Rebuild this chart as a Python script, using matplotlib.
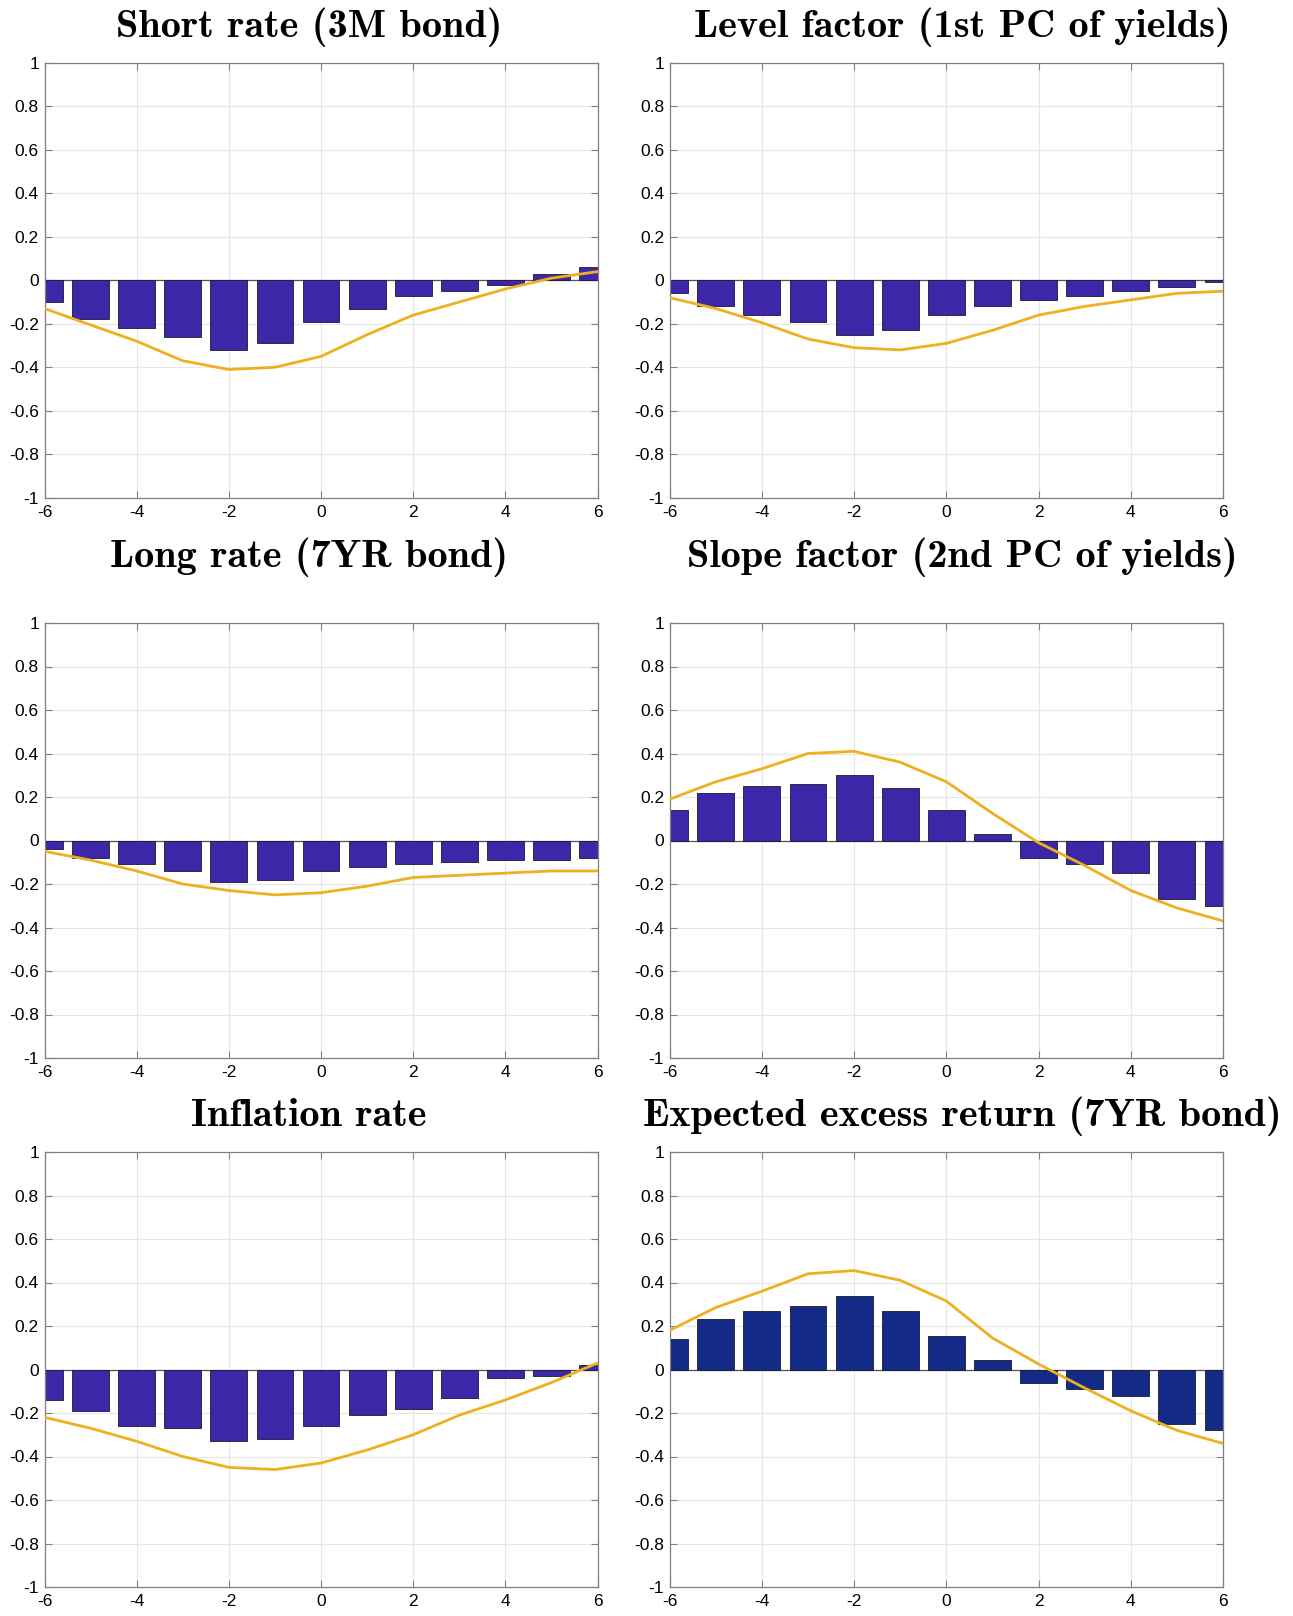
import os
import numpy as np
import matplotlib
matplotlib.use("Agg")
import matplotlib.pyplot as plt
from matplotlib.font_manager import FontProperties

plt.rcParams['font.family'] = ['Liberation Sans', 'DejaVu Sans']
plt.rcParams['axes.unicode_minus'] = False

cmb_path = os.path.join(matplotlib.get_data_path(), 'fonts', 'ttf', 'cmb10.ttf')

lags = [-6, -5, -4, -3, -2, -1, 0, 1, 2, 3, 4, 5, 6]
yticks = [-1, -0.8, -0.6, -0.4, -0.2, 0, 0.2, 0.4, 0.6, 0.8, 1]
ytick_labels = ['-1', '-0.8', '-0.6', '-0.4', '-0.2', '0', '0.2', '0.4', '0.6', '0.8', '1']
xticks = [-6, -4, -2, 0, 2, 4, 6]
xtick_labels = ['-6', '-4', '-2', '0', '2', '4', '6']

titles = [
    "Short rate (3M bond)",
    "Level factor (1st PC of yields)",
    "Long rate (7YR bond)",
    "Slope factor (2nd PC of yields)",
    "Inflation rate",
    "Expected excess return (7YR bond)",
]

short_bars = [-0.10, -0.18, -0.22, -0.26, -0.32, -0.29, -0.19, -0.13, -0.07, -0.05, -0.02, 0.03, 0.06]
short_line = [-0.13, -0.205, -0.28, -0.37, -0.41, -0.40, -0.35, -0.25, -0.16, -0.10, -0.04, 0.01, 0.04]

level_bars = [-0.06, -0.12, -0.16, -0.19, -0.25, -0.23, -0.16, -0.12, -0.09, -0.07, -0.05, -0.03, -0.01]
level_line = [-0.08, -0.13, -0.195, -0.27, -0.31, -0.32, -0.29, -0.23, -0.16, -0.12, -0.09, -0.06, -0.05]

long_bars = [-0.04, -0.08, -0.11, -0.14, -0.19, -0.18, -0.14, -0.12, -0.11, -0.10, -0.09, -0.09, -0.08]
long_line = [-0.05, -0.09, -0.14, -0.20, -0.23, -0.25, -0.24, -0.21, -0.17, -0.16, -0.15, -0.14, -0.14]

slope_bars = [0.14, 0.22, 0.25, 0.26, 0.30, 0.24, 0.14, 0.03, -0.08, -0.11, -0.15, -0.27, -0.30]
slope_line = [0.19, 0.27, 0.33, 0.40, 0.41, 0.36, 0.27, 0.125, -0.01, -0.115, -0.23, -0.31, -0.37]

infl_bars = [-0.14, -0.19, -0.26, -0.27, -0.33, -0.32, -0.26, -0.21, -0.18, -0.13, -0.04, -0.03, 0.02]
infl_line = [-0.22, -0.27, -0.33, -0.40, -0.45, -0.46, -0.43, -0.37, -0.30, -0.21, -0.14, -0.06, 0.03]

xret_bars = [0.14, 0.23, 0.27, 0.29, 0.34, 0.27, 0.155, 0.045, -0.06, -0.09, -0.12, -0.25, -0.28]
xret_line = [0.18, 0.285, 0.36, 0.44, 0.455, 0.41, 0.315, 0.145, 0.025, -0.085, -0.19, -0.28, -0.34]

bars_all = [short_bars, level_bars, long_bars, slope_bars, infl_bars, xret_bars]
lines_all = [short_line, level_line, long_line, slope_line, infl_line, xret_line]

bar_colors = ['#3d26a8'] * 5 + ['#142a87']
line_color = '#edb120'

W, H = 1293, 1616
fig = plt.figure(figsize=(W / 100, H / 100), dpi=100)

# axes boxes in pixels: (left, top, right, bottom)
col_x = [(44.5, 597.6), (669.7, 1223.0)]
row_y = [(62.8, 497.8), (623.0, 1058.0), (1152.0, 1587.0)]
title_y = [27, 557, 1116]
title_x = [309, 962]

for i in range(6):
    r, c = divmod(i, 2)
    x0, x1 = col_x[c]
    y0, y1 = row_y[r]
    ax = fig.add_axes([x0 / W, 1 - y1 / H, (x1 - x0) / W, (y1 - y0) / H])
    ax.grid(True, color='#e6e6e6', lw=0.8, zorder=0)
    ax.set_axisbelow(True)
    ax.axhline(0, color='#555555', lw=0.9, zorder=1)
    ax.bar(lags, bars_all[i], width=0.8, color=bar_colors[i],
           edgecolor='#1a1a2e', linewidth=0.6, zorder=2)
    ax.plot(lags, lines_all[i], color=line_color, lw=2.0, zorder=3)
    ax.set_xlim(-6, 6)
    ax.set_ylim(-1, 1)
    ax.set_xticks(xticks)
    ax.set_xticklabels(xtick_labels)
    ax.set_yticks(yticks)
    ax.set_yticklabels(ytick_labels)
    ax.tick_params(direction='in', length=5, width=0.8, color='#808080',
                   labelsize=12.5, labelcolor='black', top=True, right=True)
    ax.tick_params(axis='x', pad=5)
    ax.tick_params(axis='y', pad=4)
    for sp in ax.spines.values():
        sp.set_color('#808080')
        sp.set_linewidth(0.9)
    fig.text(title_x[c] / W, 1 - title_y[r] / H, titles[i], ha='center', va='center',
             fontproperties=FontProperties(fname=cmb_path, size=29), color='black')

fig.savefig("out.png", dpi=100)
